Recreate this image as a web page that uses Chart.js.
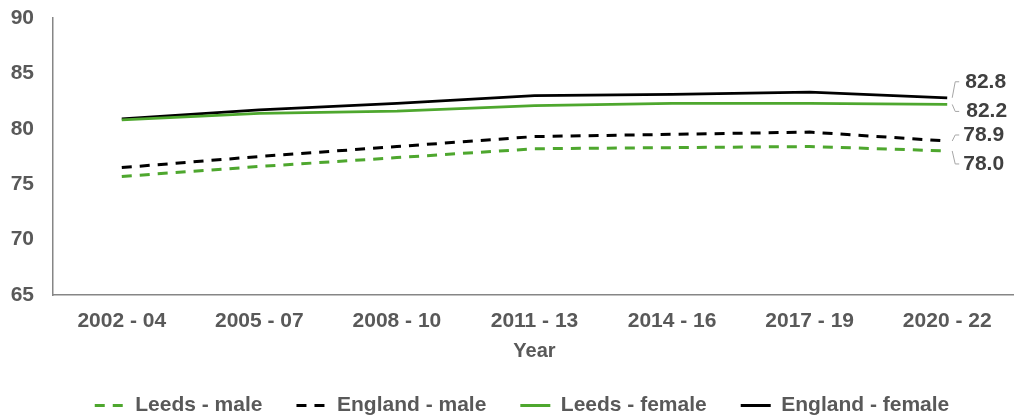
<!DOCTYPE html>
<html>
<head>
<meta charset="utf-8">
<script src="https://cdn.jsdelivr.net/npm/chart.js@4/dist/chart.umd.min.js"></script>
<style>
  html, body { margin: 0; padding: 0; background: #fff; overflow: hidden; }
  #wrap { width: 1016px; height: 419px; }
</style>
</head>
<body>
<div id="wrap"><canvas id="lifeChart"></canvas></div>
<script>
const years = ['2002 - 04', '2005 - 07', '2008 - 10', '2011 - 13', '2014 - 16', '2017 - 19', '2020 - 22'];
const leedsMale = [75.7, 76.6, 77.4, 78.2, 78.3, 78.4, 78.0];
const englandMale = [76.5, 77.5, 78.4, 79.3, 79.5, 79.7, 78.9];
const leedsFemale = [80.8, 81.4, 81.6, 82.1, 82.3, 82.3, 82.2];
const englandFemale = [80.9, 81.7, 82.3, 83.0, 83.1, 83.3, 82.8];
const yTicks = [65, 70, 75, 80, 85, 90];

const green = '#4ea72e';
const black = '#000000';
const tickGrey = '#595959';
const font = "'Liberation Sans', Arial, sans-serif";

// where each end label sits relative to its last point (dy) and the text start (tx)
const endLabelPos = [
  { dy: 13, tx: 16 },
  { dy: -6, tx: 16 },
  { dy: 7, tx: 19 },
  { dy: -16, tx: 18 }
];

const endLabels = {
  id: 'endLabels',
  afterDatasetsDraw(chart) {
    const ctx = chart.ctx;
    ctx.save();
    chart.data.datasets.forEach((ds, i) => {
      const meta = chart.getDatasetMeta(i);
      const pt = meta.data[meta.data.length - 1];
      const pos = endLabelPos[i];
      const value = ds.data[ds.data.length - 1];
      ctx.strokeStyle = '#a6a6a6';
      ctx.lineWidth = 1;
      ctx.setLineDash([]);
      ctx.beginPath();
      ctx.moveTo(pt.x + 5, pt.y);
      ctx.lineTo(pt.x + 8, pt.y + pos.dy);
      ctx.lineTo(pt.x + 12, pt.y + pos.dy);
      ctx.stroke();
      ctx.fillStyle = '#404040';
      ctx.font = 'bold 21px ' + font;
      ctx.textAlign = 'left';
      ctx.textBaseline = 'middle';
      ctx.fillText(value.toFixed(1), pt.x + pos.tx, pt.y + pos.dy);
    });
    ctx.restore();
  }
};

// nudge the legend row to the right so it sits where the original one does
const legendShift = {
  id: 'legendShift',
  afterLayout(chart) {
    chart.legend.left += 14;
    chart.legend.right += 14;
  }
};

function makeSet(label, data, color, dashed) {
  return {
    label: label,
    data: data,
    borderColor: color,
    backgroundColor: color,
    borderWidth: dashed ? 3 : 2.75,
    borderDash: dashed ? [10, 8] : [],
    pointRadius: 0,
    tension: 0,
    fill: false
  };
}

new Chart(document.getElementById('lifeChart'), {
  type: 'line',
  data: {
    labels: years,
    datasets: [
      makeSet('Leeds - male', leedsMale, green, true),
      makeSet('England - male', englandMale, black, true),
      makeSet('Leeds - female', leedsFemale, green, false),
      makeSet('England - female', englandFemale, black, false)
    ]
  },
  options: {
    responsive: true,
    maintainAspectRatio: false,
    animation: false,
    layout: { padding: { top: 18, left: 0, right: 0, bottom: -7 } },
    plugins: {
      tooltip: { enabled: false },
      legend: {
        position: 'bottom',
        labels: {
          usePointStyle: true,
          pointStyle: 'line',
          pointStyleWidth: 30,
          padding: 34,
          color: tickGrey,
          font: { family: font, size: 21, weight: 'bold' },
          generateLabels(chart) {
            const items = Chart.defaults.plugins.legend.labels.generateLabels(chart);
            items.forEach(item => {
              const ds = chart.data.datasets[item.datasetIndex];
              item.lineDash = ds.borderDash;
              item.lineWidth = 3;
              item.strokeStyle = ds.borderColor;
              item.pointStyle = 'line';
            });
            return items;
          }
        }
      }
    },
    scales: {
      x: {
        offset: true,
        afterFit(scale) { scale.height = 66; },
        grid: { display: false, drawTicks: false },
        border: { display: true, color: '#868686', width: 1.5 },
        ticks: {
          color: tickGrey,
          padding: 14,
          maxRotation: 0,
          autoSkip: false,
          font: { family: font, size: 21, weight: 'bold' }
        },
        title: {
          display: true,
          text: 'Year',
          color: tickGrey,
          padding: { top: 0, bottom: -2 },
          font: { family: font, size: 20, weight: 'bold' }
        }
      },
      y: {
        min: 65,
        max: 90,
        afterFit(scale) {
          scale.width = 53;
          scale.paddingTop = 0;
          scale.paddingBottom = 0;
        },
        afterBuildTicks(scale) { scale.ticks = yTicks.map(v => ({ value: v })); },
        grid: { display: false, drawTicks: false },
        border: { display: true, color: '#868686', width: 1.5 },
        ticks: {
          color: tickGrey,
          padding: 19,
          font: { family: font, size: 21, weight: 'bold' }
        }
      }
    }
  },
  plugins: [endLabels, legendShift]
});
</script>
</body>
</html>
